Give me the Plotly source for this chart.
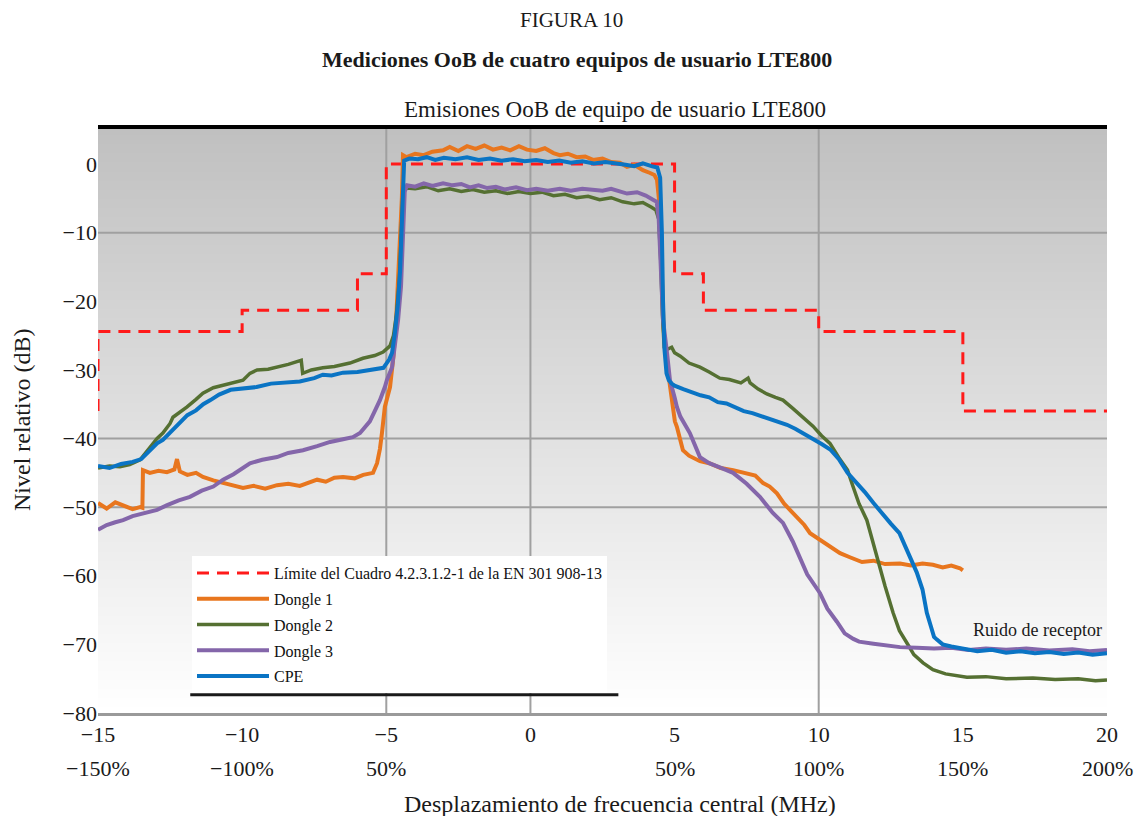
import base64
import struct
import zlib

import plotly.graph_objects as go

# ---------------- data ----------------
limit_x = [-15, -15, -10, -6, -5, 5, 6, 10, 15, 20]
limit_y = [-36, -24.4, -21.3, -16, 0, -16, -21.3, -24.4, -36, -36]

d1_x = [-15, -14.7, -14.4, -14.13, -13.8, -13.54, -13.46, -13.44, -13.2, -12.9, -12.61, -12.35, -12.26,
        -12.16, -11.9, -11.6, -11.36, -11.0, -10.66, -10.3, -9.97, -9.6, -9.2, -8.79, -8.4, -8.0, -7.4,
        -7.1, -6.8, -6.5, -6.1, -5.8, -5.57, -5.46, -5.32, -5.22, -5.15, -5.05, -4.87, -4.75, -4.65,
        -4.55, -4.46, -4.42, -4.3, -4.0, -3.7, -3.4, -3.03, -2.8, -2.5, -2.2, -1.9, -1.6, -1.3, -1.0,
        -0.7, -0.4, -0.12, 0.2, 0.5, 0.8, 1.02, 1.3, 1.6, 1.9, 2.17, 2.5, 2.8, 3.1, 3.35, 3.6, 3.9,
        4.15, 4.3, 4.39, 4.48, 4.55, 4.62, 4.7, 4.77, 4.84, 4.94, 5.01, 5.08, 5.18, 5.29, 5.5, 5.88,
        6.2, 6.6, 7.03, 7.4, 7.8, 8.07, 8.3, 8.55, 8.8, 9.05, 9.25, 9.5, 9.7, 10.04, 10.39, 10.74,
        11.08, 11.5, 11.9, 12.3, 12.82, 13.2, 13.6, 13.96, 14.3, 14.6, 14.9, 15.0]
d1_y = [-49.4, -50.2, -49.3, -49.7, -50.3, -50.0, -50.1, -44.6, -45.0, -44.7, -44.9, -44.5, -43.0,
        -44.8, -45.3, -45.0, -45.6, -46.1, -46.5, -46.9, -47.2, -46.9, -47.3, -46.8, -46.6, -46.9, -46.0,
        -46.3, -45.7, -45.6, -45.8, -45.3, -45.1, -45.0, -43.6, -41.5, -39.2, -35.4, -32.5, -28.0, -22.0,
        -14.0, -5.0, 1.3, 1.0, 1.5, 1.3, 1.8, 2.0, 2.5, 1.9, 2.6, 2.2, 2.7, 2.1, 2.4,
        2.0, 2.6, 2.1, 1.9, 2.3, 1.6, 1.3, 1.5, 1.0, 1.1, 0.6, 0.8, 0.3, 0.2, -0.4, -0.1, -0.9,
        -1.3, -1.6, -2.3, -6.0, -15.0, -24.0, -28.0, -30.0, -32.0, -35.4, -37.5, -38.3, -40.2, -41.7, -42.5, -43.3,
        -43.6, -44.3, -44.6, -45.0, -45.4, -46.5, -47.0, -48.0, -49.5, -50.6, -51.4, -52.6, -53.8, -54.8, -55.8, -56.7,
        -57.3, -58.0, -57.8, -58.3, -58.2, -58.5, -58.2, -58.4, -58.8, -58.5, -58.9, -59.2]

d2_x = [-15, -14.6, -14.24, -13.9, -13.54, -13.2, -12.95, -12.75, -12.5, -12.4, -12.1, -11.91, -11.6,
        -11.36, -11.0, -10.66, -10.3, -9.97, -9.73, -9.48, -9.1, -8.79, -8.4, -8.1, -7.95, -7.9, -7.6,
        -7.2, -6.8, -6.26, -5.81, -5.4, -5.11, -4.87, -4.75, -4.65, -4.55, -4.47, -4.42, -4.3, -4.0,
        -3.6, -3.2, -2.8, -2.4, -2.0, -1.6, -1.2, -0.8, -0.4, 0.0, 0.4, 0.8, 1.2, 1.6, 2.0, 2.4, 2.8,
        3.2, 3.6, 3.9, 4.2, 4.35, 4.45, 4.52, 4.58, 4.64, 4.75, 4.9, 5.0, 5.2, 5.5, 5.88, 6.2, 6.57,
        6.9, 7.3, 7.55, 7.62, 7.9, 8.2, 8.5, 8.76, 9.1, 9.45, 9.8, 10.1, 10.39, 10.7, 11.0, 11.19,
        11.4, 11.67, 11.9, 12.12, 12.3, 12.58, 12.8, 13.06, 13.3, 13.62, 13.96, 14.4, 15.14, 15.8,
        16.5, 17.43, 18.2, 19.0, 19.6, 20.0]
d2_y = [-44.3, -44.0, -44.1, -43.8, -43.1, -41.2, -40.0, -39.2, -37.8, -36.9, -36.0, -35.4, -34.3,
        -33.4, -32.6, -32.2, -31.8, -31.5, -30.5, -30.0, -29.9, -29.6, -29.2, -28.8, -28.6, -30.5, -30.0,
        -29.7, -29.5, -29.0, -28.3, -27.9, -27.4, -26.5, -25.0, -22.0, -17.0, -9.0, -4.0, -3.5, -3.6,
        -3.3, -3.9, -3.6, -4.0, -3.7, -4.1, -3.9, -4.3, -4.0, -4.3, -4.1, -4.6, -4.4, -4.9, -4.7, -5.2, -4.9,
        -5.5, -5.8, -5.6, -6.3, -6.7, -8.0, -14.0, -22.0, -26.7, -27.0, -26.7, -27.5, -28.0, -29.0, -29.6, -30.3, -31.2,
        -31.4, -31.9, -31.2, -31.9, -32.8, -33.5, -34.0, -34.4, -35.6, -36.9, -38.2, -39.6, -40.7, -42.8, -44.6, -47.0,
        -49.5, -51.9, -55.5, -58.7, -61.5, -65.4, -68.0, -69.8, -71.5, -72.7, -73.7, -74.3, -74.8, -74.7,
        -75.0, -74.9, -75.1, -75.0, -75.3, -75.2]

d3_x = [-15, -14.7, -14.4, -14.13, -13.8, -13.5, -13.2, -12.95, -12.6, -12.2, -11.81, -11.4, -11.0,
        -10.66, -10.3, -9.97, -9.73, -9.3, -8.79, -8.4, -7.89, -7.4, -6.95, -6.5, -6.16, -5.91, -5.75,
        -5.57, -5.4, -5.22, -5.05, -4.98, -4.8, -4.7, -4.59, -4.49, -4.42, -4.36, -4.28, -4.0, -3.7,
        -3.4, -3.03, -2.7, -2.4, -2.1, -1.8, -1.5, -1.2, -0.9, -0.5, -0.12, 0.2, 0.6, 1.02, 1.4, 1.8,
        2.17, 2.5, 2.8, 3.1, 3.35, 3.7, 4.0, 4.25, 4.38, 4.45, 4.52, 4.6, 4.74, 4.84, 5.0, 5.08, 5.2,
        5.53, 5.88, 6.2, 6.57, 7.03, 7.5, 7.96, 8.4, 8.76, 9.1, 9.35, 9.6, 10.04, 10.3, 10.63, 10.9,
        11.2, 11.4, 11.9, 12.4, 12.82, 13.4, 14.0, 14.6, 15.2, 15.8, 16.5, 17.2, 18.0, 18.8, 19.4, 20.0]
d3_y = [-53.3, -52.6, -52.2, -51.9, -51.3, -51.0, -50.6, -50.4, -49.7, -49.0, -48.5, -47.6, -47.0,
        -46.0, -45.2, -44.3, -43.6, -43.1, -42.7, -42.1, -41.7, -41.1, -40.5, -40.1, -39.8, -39.2, -38.5,
        -37.5, -36.0, -34.4, -32.5, -31.5, -29.6, -26.7, -22.7, -17.9, -10.0, -4.0, -3.1, -3.3, -2.8,
        -3.2, -2.8, -3.1, -2.9, -3.4, -3.1, -3.5, -3.3, -3.7, -3.4, -3.8, -3.6, -3.9, -3.6, -3.9, -3.6,
        -3.8, -3.9, -3.6, -4.0, -4.3, -4.1, -4.6, -5.2, -5.5, -8.0, -15.0, -22.7, -27.6, -31.5, -34.0, -35.4, -36.8,
        -39.2, -42.7, -43.6, -44.2, -45.0, -46.6, -48.5, -50.8, -52.3, -55.0, -57.3, -59.8, -62.5, -64.8, -66.7, -68.4,
        -69.2, -69.6, -69.9, -70.2, -70.4, -70.5, -70.6, -70.5, -70.8, -70.6, -70.8, -70.6, -70.9, -70.7, -71.0, -70.8]

cpe_x = [-15, -14.6, -14.2, -13.8, -13.5, -13.2, -12.95, -12.75, -12.5, -12.3, -12.15, -11.9, -11.6,
         -11.35, -11.1, -10.8, -10.4, -10.0, -9.5, -9.0, -8.5, -8.0, -7.5, -7.2, -6.9, -6.5, -6.0,
         -5.5, -5.1, -4.9, -4.8, -4.7, -4.6, -4.52, -4.46, -4.42, -4.38, -4.2, -3.9, -3.6, -3.3, -3.0,
         -2.6, -2.2, -1.8, -1.4, -1.0, -0.6, -0.2, 0.2, 0.6, 1.0, 1.4, 1.8, 2.2, 2.6, 3.0, 3.3, 3.6,
         3.9, 4.2, 4.4, 4.5, 4.56, 4.6, 4.65, 4.72, 4.8, 4.9, 5.0, 5.3, 5.6, 5.9, 6.2, 6.5, 6.8, 7.1,
         7.4, 7.7, 8.0, 8.3, 8.6, 8.9, 9.2, 9.5, 9.8, 10.1, 10.4, 10.7, 11.0, 11.3, 11.6, 11.9, 12.2,
         12.5, 12.8, 13.1, 13.4, 13.6, 13.75, 13.9, 14.0, 14.1, 14.3, 14.6, 15.0, 15.5, 16.0, 16.5,
         17.0, 17.5, 18.0, 18.5, 19.0, 19.5, 20.0]
cpe_y = [-44.0, -44.3, -43.7, -43.4, -43.0, -41.8, -40.7, -40.2, -39.2, -38.3, -37.8, -36.6, -35.9,
         -35.0, -34.4, -33.6, -32.9, -32.7, -32.5, -32.0, -31.9, -31.7, -31.2, -30.7, -30.8, -30.4, -30.3,
         -30.0, -29.7, -28.5, -27.5, -24.6, -20.5, -15.5, -8.2, -2.0, 0.5, 0.8, 0.7, 1.0, 0.6, 0.9,
         0.7, 1.0, 0.6, 0.8, 0.5, 0.7, 0.4, 0.6, 0.3, 0.5, 0.2, 0.4, 0.1, 0.3, 0.0, -0.1, -0.3,
         0.1, -0.3, -0.5, -2.0, -10.0, -20.0, -27.0, -30.5, -31.5, -32.0, -32.3, -32.8, -33.3, -33.7, -34.0, -34.7, -34.9, -35.4,
         -36.0, -36.3, -36.7, -37.2, -37.6, -38.0, -38.6, -39.3, -40.0, -40.8, -41.6, -43.0, -45.0, -46.3, -47.8, -49.4, -51.0,
         -52.4, -53.8, -56.5, -59.5, -62.0, -65.4, -67.5, -68.9, -69.3, -70.0, -70.3, -70.6, -71.0, -70.8, -71.2,
         -71.0, -71.3, -71.1, -71.4, -71.2, -71.5, -71.3]

series_names = ["Límite del Cuadro 4.2.3.1.2-1 de la EN 301 908-13", "Dongle 1", "Dongle 2", "Dongle 3", "CPE"]

x_ticks = [-15, -10, -5, 0, 5, 10, 15, 20]
x_tick_labels = ["\u221215", "\u221210", "\u22125", "0", "5", "10", "15", "20"]
pct_ticks = [-15, -10, -5, 5, 10, 15, 20]
pct_labels = ["\u2212150%", "\u2212100%", "50%", "50%", "100%", "150%", "200%"]
y_ticks = [0, -10, -20, -30, -40, -50, -60, -70, -80]
y_tick_labels = ["0", "\u221210", "\u221220", "\u221230", "\u221240", "\u221250", "\u221260", "\u221270", "\u221280"]
grid_x = [-5, 0, 10]
grid_y = [-10, -40, -50]

FONT = "Liberation Serif"


# ------------- gradient background image (PNG) -------------
def gradient_png(top=192, bottom=255, rows=256):
    raw = b""
    for r in range(rows):
        v = int(round(top + (bottom - top) * r / (rows - 1)))
        raw += b"\x00" + bytes([v])

    def chunk(tag, data):
        c = struct.pack(">I", len(data)) + tag + data
        return c + struct.pack(">I", zlib.crc32(tag + data) & 0xFFFFFFFF)

    png = b"\x89PNG\r\n\x1a\n"
    png += chunk(b"IHDR", struct.pack(">IIBBBBB", 1, rows, 8, 0, 0, 0, 0))
    png += chunk(b"IDAT", zlib.compress(raw))
    png += chunk(b"IEND", b"")
    return "data:image/png;base64," + base64.b64encode(png).decode()


fig = go.Figure()

fig.add_trace(go.Scatter(x=limit_x, y=limit_y, name=series_names[0], mode="lines", line_shape="hv",
                         line=dict(color="#ff1a1a", width=3, dash="12px,8px"), legendgroup="g0"))
fig.add_trace(go.Scatter(x=d1_x, y=d1_y, name=series_names[1], mode="lines",
                         line=dict(color="#e8761e", width=4), legendgroup="g1"))
fig.add_trace(go.Scatter(x=d2_x, y=d2_y, name=series_names[2], mode="lines",
                         line=dict(color="#557032", width=3.5), legendgroup="g2"))
fig.add_trace(go.Scatter(x=d3_x, y=d3_y, name=series_names[3], mode="lines",
                         line=dict(color="#8466aa", width=4), legendgroup="g3"))
fig.add_trace(go.Scatter(x=cpe_x, y=cpe_y, name=series_names[4], mode="lines",
                         line=dict(color="#0a74c4", width=4), legendgroup="g4"))

shapes = []
for gx in grid_x:
    shapes.append(dict(type="line", xref="x", yref="y", x0=gx, x1=gx, y0=-80, y1=5.4,
                       line=dict(color="#a0a0a0", width=2), layer="below"))
for gy in grid_y:
    shapes.append(dict(type="line", xref="x", yref="y", x0=-15, x1=20, y0=gy, y1=gy,
                       line=dict(color="#a0a0a0", width=2), layer="below"))
# top border of plot
shapes.append(dict(type="line", xref="paper", yref="paper", x0=0, x1=1, y0=1, y1=1,
                   line=dict(color="#000000", width=4), layer="above"))
# bottom line under legend box
shapes.append(dict(type="line", xref="x", yref="y", x0=-11.8, x1=3.05, y0=-77.35, y1=-77.35,
                   line=dict(color="#1a1a1a", width=3), layer="above"))

PLOT_H = 586.0
PLOT_W = 1009.0


def py(px):
    return (713 - px) / PLOT_H


def pxp(px):
    return (px - 98) / PLOT_W


def ann(text, x, y, size, xref="paper", yref="paper", **kw):
    d = dict(text=text, xref=xref, yref=yref, x=x, y=y, showarrow=False,
             xanchor="center", yanchor="middle",
             font=dict(family=FONT, size=size, color="#1a1a1a"))
    d.update(kw)
    return d


annotations = [
    ann("FIGURA 10", pxp(571), py(20), 21),
    ann("<b>Mediciones OoB de cuatro equipos de usuario LTE800</b>", pxp(577), py(60), 22),
    ann("Emisiones OoB de equipo de usuario LTE800", pxp(615), py(110), 23),
    ann("Nivel relativo (dB)", pxp(22), 0.5, 24, textangle=-90),
    ann("Desplazamiento de frecuencia central (MHz)", pxp(620), py(804), 24),
    ann("Ruido de receptor", 17.6, -67.9, 18, xref="x", yref="y"),
]
for xv, lab in zip(pct_ticks, pct_labels):
    annotations.append(ann(lab, xv, py(768), 22, xref="x"))

fig.update_layout(
    width=1142, height=816,
    margin=dict(l=98, r=35, t=127, b=103),
    paper_bgcolor="white", plot_bgcolor="white",
    font=dict(family=FONT, size=21, color="#1a1a1a"),
    showlegend=True,
    legend=dict(x=pxp(192), y=py(556), xanchor="left", yanchor="top", bgcolor="white",
                font=dict(family=FONT, size=16, color="#111"), tracegroupgap=2,
                itemwidth=72, traceorder="grouped"),
    xaxis=dict(range=[-15, 20], tickmode="array", tickvals=x_ticks, ticktext=x_tick_labels,
               showgrid=False, zeroline=False, showline=True, linecolor="#9a9a9a", linewidth=3,
               ticks="", fixedrange=True, tickfont=dict(family=FONT, size=22)),
    yaxis=dict(range=[-80, 5.4], tickmode="array", tickvals=y_ticks, ticktext=y_tick_labels,
               showgrid=False, zeroline=False, showline=False, ticks="", fixedrange=True,
               tickfont=dict(family=FONT, size=22)),
    shapes=shapes,
    annotations=annotations,
    images=[dict(source=gradient_png(), xref="paper", yref="paper", x=0, y=1, sizex=1, sizey=1,
                 sizing="stretch", layer="below", xanchor="left", yanchor="top")],
)

fig.write_html("out.html")
